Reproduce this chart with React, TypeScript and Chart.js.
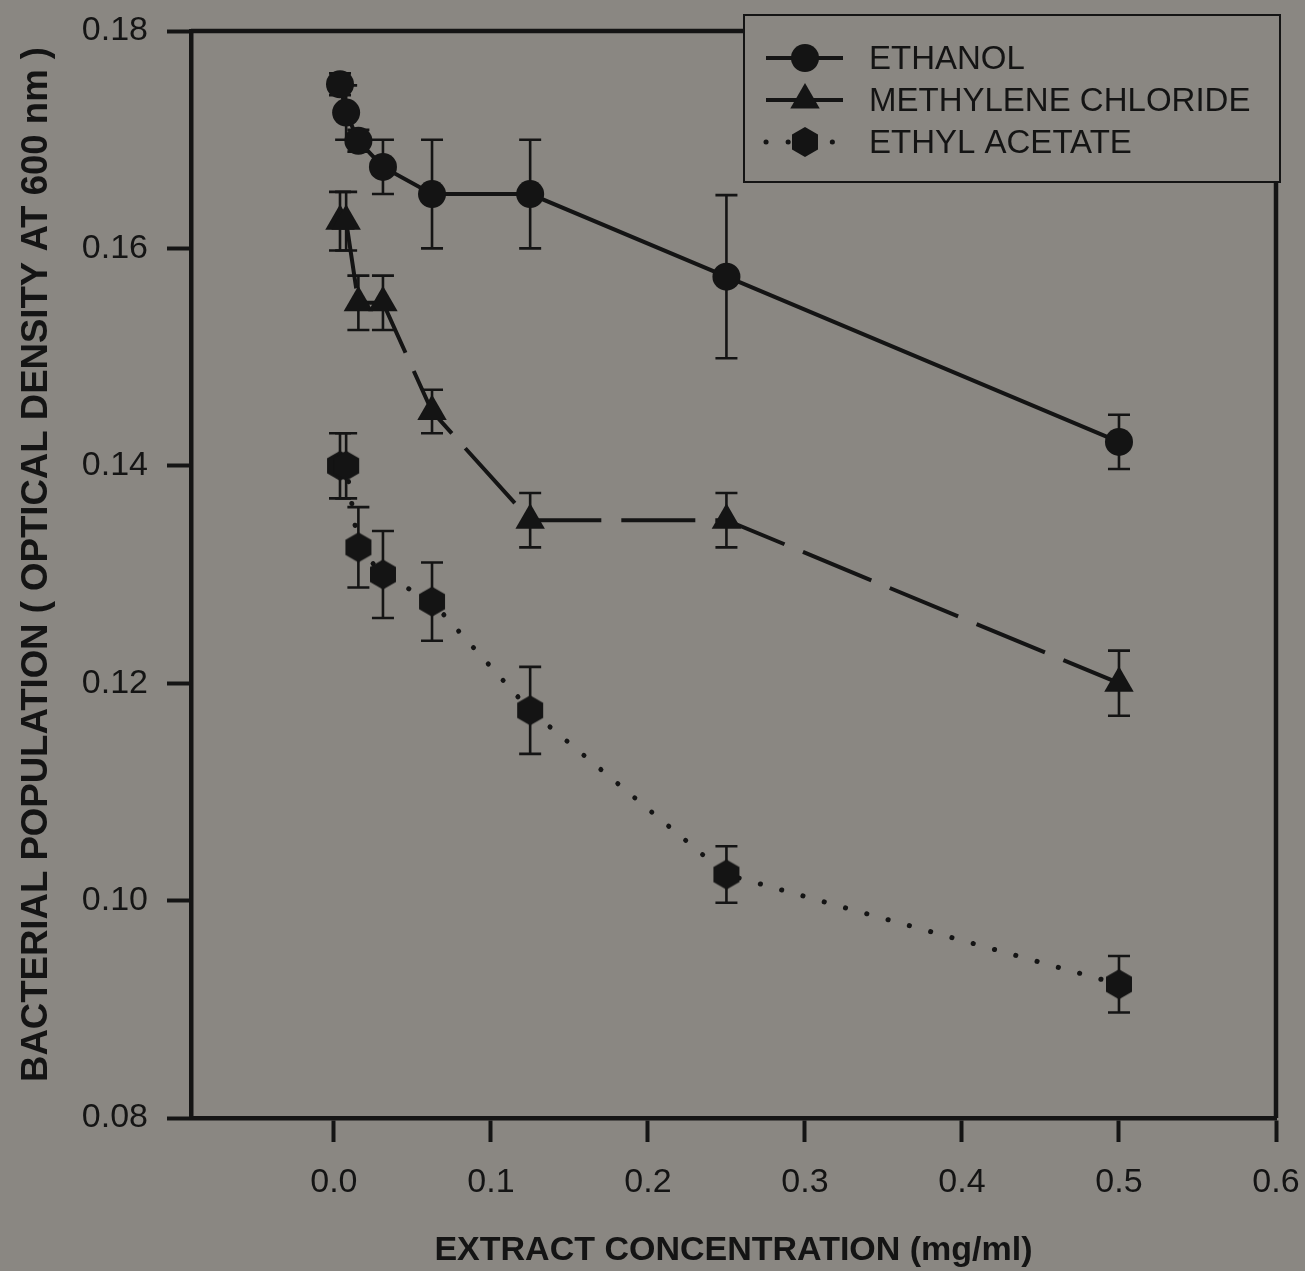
import React, { useEffect, useRef } from 'react';
import { Chart, registerables } from 'chart.js';

Chart.register(...registerables);

// ---------- data ----------
const concentrations = [0.0039, 0.0078, 0.0156, 0.03125, 0.0625, 0.125, 0.25, 0.5];
const ethanolOD = [0.1751, 0.1725, 0.1699, 0.1675, 0.165, 0.165, 0.1574, 0.1422];
const ethanolErr = [0.001, 0.0025, 0.001, 0.0025, 0.005, 0.005, 0.0075, 0.0025];
const methyleneOD = [0.1625, 0.1625, 0.155, 0.155, 0.145, 0.135, 0.135, 0.12];
const methyleneErr = [0.0027, 0.0027, 0.0025, 0.0025, 0.002, 0.0025, 0.0025, 0.003];
const ethylAcetateOD = [0.14, 0.14, 0.1325, 0.13, 0.1275, 0.1175, 0.1024, 0.0923];
const ethylAcetateErr = [0.003, 0.003, 0.0037, 0.004, 0.0036, 0.004, 0.0026, 0.0026];
const seriesNames = ['ETHANOL', 'METHYLENE CHLORIDE', 'ETHYL ACETATE'];
const xTickValues = [0.0, 0.1, 0.2, 0.3, 0.4, 0.5, 0.6];
const yTickValues = [0.08, 0.1, 0.12, 0.14, 0.16, 0.18];
const xTitle = 'EXTRACT CONCENTRATION (mg/ml)';
const yTitle = 'BACTERIAL POPULATION ( OPTICAL DENSITY AT 600 nm )';

const BG = '#8a8782';
const INK = '#141414';
const FONT = '"Liberation Sans", Arial, Helvetica, sans-serif';

function makeHexagon(r: number): HTMLCanvasElement {
  const c = document.createElement('canvas');
  const w = Math.ceil(r * Math.sqrt(3)) + 2;
  const h = Math.ceil(r * 2) + 2;
  c.width = w;
  c.height = h;
  const g = c.getContext('2d')!;
  g.fillStyle = INK;
  g.beginPath();
  for (let k = 0; k < 6; k++) {
    const a = (Math.PI / 3) * k;
    const px = w / 2 + r * Math.sin(a);
    const py = h / 2 - r * Math.cos(a);
    if (k === 0) g.moveTo(px, py);
    else g.lineTo(px, py);
  }
  g.closePath();
  g.fill();
  return c;
}

const errorBarPlugin = {
  id: 'errorBars',
  beforeDatasetsDraw(chart: any) {
    const { ctx } = chart;
    const x = chart.scales.x;
    const y = chart.scales.y;
    ctx.save();
    ctx.strokeStyle = INK;
    ctx.lineWidth = 2.6;
    chart.data.datasets.forEach((ds: any) => {
      ds.data.forEach((p: any, i: number) => {
        const e = ds.errors[i];
        const px = x.getPixelForValue(p.x);
        const top = y.getPixelForValue(p.y + e);
        const bot = y.getPixelForValue(p.y - e);
        ctx.beginPath();
        ctx.moveTo(px, top);
        ctx.lineTo(px, bot);
        ctx.moveTo(px - 11, top);
        ctx.lineTo(px + 11, top);
        ctx.moveTo(px - 11, bot);
        ctx.lineTo(px + 11, bot);
        ctx.stroke();
      });
    });
    ctx.restore();
  },
};

const frameLegendPlugin = {
  id: 'frameLegend',
  afterDraw(chart: any) {
    const { ctx, chartArea } = chart;
    ctx.save();
    // top and right frame
    ctx.strokeStyle = INK;
    ctx.lineWidth = 4.5;
    ctx.beginPath();
    ctx.moveTo(chartArea.left, chartArea.top);
    ctx.lineTo(chartArea.right, chartArea.top);
    ctx.lineTo(chartArea.right, chartArea.bottom);
    ctx.stroke();

    // y axis title
    ctx.save();
    ctx.translate(37, (chartArea.top + chartArea.bottom) / 2 - 10);
    ctx.rotate(-Math.PI / 2);
    ctx.fillStyle = INK;
    ctx.font = `bold 36.6px ${FONT}`;
    ctx.textAlign = 'center';
    ctx.textBaseline = 'middle';
    ctx.fillText(yTitle, 0, 0);
    ctx.restore();

    // legend box
    const bx = 744, by = 15, bw = 536, bh = 167;
    ctx.fillStyle = BG;
    ctx.fillRect(bx, by, bw, bh);
    ctx.lineWidth = 2;
    ctx.strokeRect(bx, by, bw, bh);

    const rows = [58, 100, 142];
    chart.data.datasets.forEach((ds: any, i: number) => {
      const ry = rows[i];
      ctx.save();
      ctx.strokeStyle = INK;
      ctx.lineWidth = ds.borderWidth;
      ctx.lineCap = ds.borderCapStyle || 'butt';
      ctx.setLineDash(i === 1 ? [] : ds.borderDash || []);
      ctx.beginPath();
      ctx.moveTo(766, ry);
      ctx.lineTo(843, ry);
      ctx.stroke();
      ctx.restore();
      const mx = 805;
      ctx.fillStyle = INK;
      if (ds.pointStyle === 'circle') {
        ctx.beginPath();
        ctx.arc(mx, ry, ds.pointRadius, 0, Math.PI * 2);
        ctx.fill();
      } else if (ds.pointStyle === 'triangle') {
        const r = ds.pointRadius;
        ctx.beginPath();
        ctx.moveTo(mx, ry - r);
        ctx.lineTo(mx + 0.866 * r, ry + 0.5 * r);
        ctx.lineTo(mx - 0.866 * r, ry + 0.5 * r);
        ctx.closePath();
        ctx.fill();
      } else {
        const img = ds.pointStyle as HTMLCanvasElement;
        ctx.drawImage(img, mx - img.width / 2, ry - img.height / 2);
      }
      ctx.fillStyle = INK;
      ctx.font = `33px ${FONT}`;
      ctx.textBaseline = 'middle';
      ctx.textAlign = 'left';
      ctx.fillText(ds.label, 869, ry + 2);
    });
    ctx.restore();
  },
};

export default function App() {
  const ref = useRef<HTMLCanvasElement | null>(null);

  useEffect(() => {
    document.body.style.margin = '0';
    document.body.style.background = BG;
    const hex = makeHexagon(15);
    const mk = (ys: number[]) => concentrations.map((c, i) => ({ x: c, y: ys[i] }));
    const chart = new Chart(ref.current!, {
      type: 'scatter',
      data: {
        datasets: [
          {
            label: seriesNames[0],
            data: mk(ethanolOD),
            errors: ethanolErr,
            showLine: true,
            borderColor: INK,
            borderWidth: 4,
            pointStyle: 'circle',
            pointRadius: 14,
            pointBackgroundColor: INK,
            pointBorderWidth: 0,
          } as any,
          {
            label: seriesNames[1],
            data: mk(methyleneOD),
            errors: methyleneErr,
            showLine: true,
            borderColor: INK,
            borderWidth: 4,
            borderDash: [74, 20],
            pointStyle: 'triangle',
            pointRadius: 17,
            pointBackgroundColor: INK,
            pointBorderWidth: 0,
          } as any,
          {
            label: seriesNames[2],
            data: mk(ethylAcetateOD),
            errors: ethylAcetateErr,
            showLine: true,
            borderColor: INK,
            borderWidth: 5,
            borderDash: [0.1, 22],
            borderCapStyle: 'round',
            pointStyle: hex,
            pointRadius: 15,
            pointBackgroundColor: INK,
            pointBorderWidth: 0,
          } as any,
        ],
      },
      options: {
        responsive: false,
        animation: false,
        events: [],
        layout: { padding: { left: 0, top: 31, right: 29, bottom: 0 } },
        plugins: { legend: { display: false }, tooltip: { enabled: false } },
        scales: {
          x: {
            type: 'linear',
            min: -0.091,
            max: 0.6,
            afterBuildTicks: (s: any) => {
              s.ticks = xTickValues.map((v) => ({ value: v }));
            },
            afterFit: (s: any) => {
              s.height = 153;
              s.paddingLeft = 0;
              s.paddingRight = 0;
            },
            grid: {
              drawOnChartArea: false,
              drawTicks: true,
              tickLength: 24,
              tickWidth: 4,
              tickColor: INK,
            },
            border: { display: true, width: 4.5, color: INK },
            ticks: {
              color: INK,
              font: { family: FONT, size: 34 },
              padding: 20,
              maxRotation: 0,
              autoSkip: false,
              callback: (v: any) => Number(v).toFixed(1),
            },
            title: {
              display: true,
              text: xTitle,
              color: INK,
              font: { family: FONT, size: 34, weight: 'bold' },
              padding: { top: 0, bottom: 0 },
            },
          },
          y: {
            type: 'linear',
            min: 0.08,
            max: 0.18,
            afterBuildTicks: (s: any) => {
              s.ticks = yTickValues.map((v) => ({ value: v }));
            },
            afterFit: (s: any) => {
              s.width = 191;
              s.paddingTop = 0;
              s.paddingBottom = 0;
            },
            grid: {
              drawOnChartArea: false,
              drawTicks: true,
              tickLength: 24,
              tickWidth: 4,
              tickColor: INK,
            },
            border: { display: true, width: 4.5, color: INK },
            ticks: {
              color: INK,
              font: { family: FONT, size: 34 },
              padding: 19,
              autoSkip: false,
              callback: (v: any) => Number(v).toFixed(2),
            },
            title: { display: false },
          },
        },
      } as any,
      plugins: [errorBarPlugin, frameLegendPlugin],
    });
    return () => chart.destroy();
  }, []);

  return (
    <div style={{ position: 'fixed', left: 0, top: 0, width: 1305, height: 1271, background: BG }}>
      <canvas ref={ref} width={1305} height={1271} style={{ display: 'block' }} />
    </div>
  );
}
